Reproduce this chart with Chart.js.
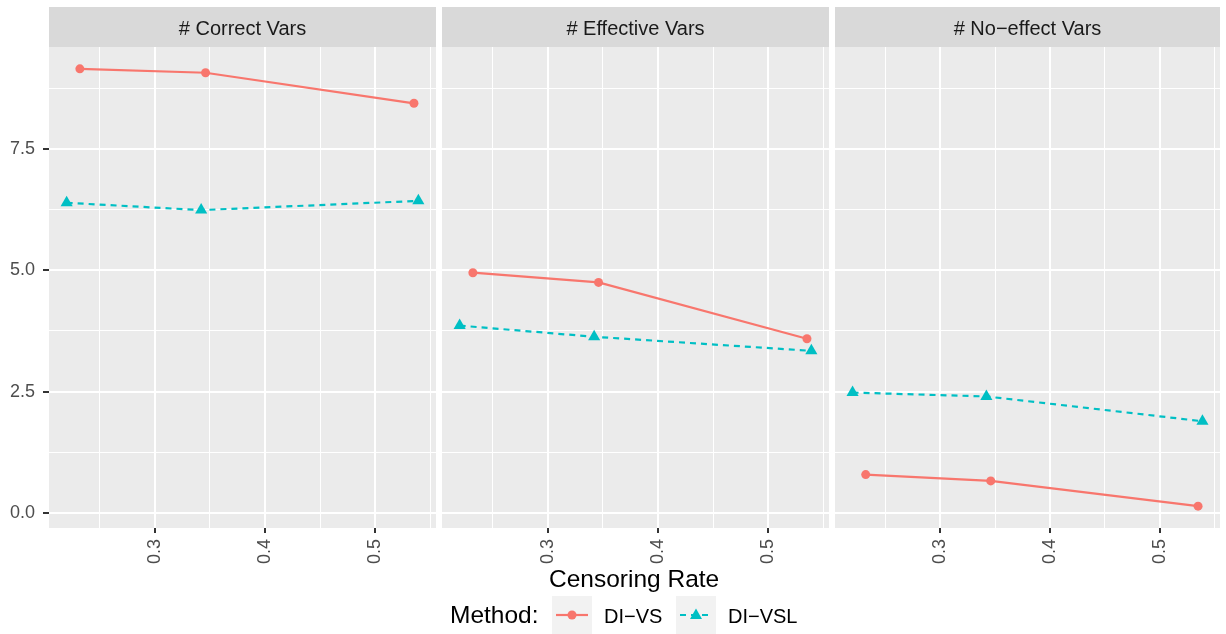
<!DOCTYPE html>
<html>
<head>
<meta charset="utf-8">
<script src="https://cdn.jsdelivr.net/npm/chart.js@4"></script>
<style>
  body { margin: 0; background: #fff; font-family: "Liberation Sans", Arial, sans-serif; }
  #wrap { position: relative; width: 1226px; height: 634px; overflow: hidden; }
  #wrap canvas { position: absolute; top: 0; }
  .txt { position: absolute; white-space: nowrap; line-height: 1; color: #000; }
  .key { position: absolute; }
</style>
</head>
<body>
<div id="wrap">
  <canvas id="p1" width="440" height="580" style="left:0px"></canvas>
  <canvas id="p2" width="387" height="580" style="left:442px"></canvas>
  <canvas id="p3" width="385" height="580" style="left:835px"></canvas>

  <div class="txt" style="left:549px;top:567px;font-size:24.5px">Censoring Rate</div>

  <div class="txt" style="left:450px;top:603px;font-size:24.5px">Method:</div>
  <svg class="key" width="40" height="38" style="left:552px;top:596px">
    <rect width="40" height="38" fill="#F2F2F2"/>
    <line x1="4" y1="19" x2="36" y2="19" stroke="#F8766D" stroke-width="2.2"/>
    <circle cx="20" cy="19" r="4.5" fill="#F8766D"/>
  </svg>
  <div class="txt" style="left:604px;top:606px;font-size:20px">DI−VS</div>
  <svg class="key" width="40" height="38" style="left:676px;top:596px">
    <rect width="40" height="38" fill="#F2F2F2"/>
    <line x1="4" y1="19" x2="36" y2="19" stroke="#00BFC4" stroke-width="2.2" stroke-dasharray="6 5"/>
    <polygon points="20,12.5 26,23 14,23" fill="#00BFC4"/>
  </svg>
  <div class="txt" style="left:728px;top:606px;font-size:20px">DI−VSL</div>
</div>

<script>
// censoring rates at which each method was run
const rateVS = [0.232, 0.346, 0.535];
const rateVSL = [0.220, 0.342, 0.539];

const panelTitles = ['# Correct Vars', '# Effective Vars', '# No−effect Vars'];

const correctVS = [9.15, 9.07, 8.44];
const correctVSL = [6.39, 6.24, 6.43];
const effectiveVS = [4.95, 4.75, 3.59];
const effectiveVSL = [3.86, 3.63, 3.34];
const noEffectVS = [0.79, 0.66, 0.14];
const noEffectVSL = [2.48, 2.40, 1.89];

// axis ticks (majors get labels, the rest are minor grid lines)
const xMajor = [0.3, 0.4, 0.5];
const xLabels = ['0.3', '0.4', '0.5'];
const xMinor = [0.25, 0.35, 0.45, 0.55];
const yMajor = [0, 2.5, 5, 7.5];
const yLabels = ['0.0', '2.5', '5.0', '7.5'];
const yMinor = [1.25, 3.75, 6.25, 8.75];

Chart.defaults.font.family = '"Liberation Sans", Arial, sans-serif';

const RED = '#F8766D';
const TEAL = '#00BFC4';

// grey panel + strip with the facet title
const panelFrame = {
  id: 'panelFrame',
  beforeDraw(chart, args, opts) {
    const { ctx, chartArea: a } = chart;
    ctx.save();
    ctx.fillStyle = '#EBEBEB';
    ctx.fillRect(a.left, a.top, a.right - a.left, a.bottom - a.top);
    ctx.fillStyle = '#D9D9D9';
    ctx.fillRect(a.left, 7, a.right - a.left, a.top - 7);
    ctx.fillStyle = '#1A1A1A';
    ctx.font = '20px "Liberation Sans", Arial, sans-serif';
    ctx.textAlign = 'center';
    ctx.textBaseline = 'alphabetic';
    ctx.fillText(opts.label, (a.left + a.right) / 2, 34.5);
    ctx.restore();
  }
};

const toPoints = (xs, ys) => xs.map((x, i) => ({ x: x, y: ys[i] }));

function makePanel(id, title, vs, vsl, first) {
  const ctx = document.getElementById(id).getContext('2d');
  return new Chart(ctx, {
    type: 'line',
    data: {
      datasets: [
        {
          label: 'DI−VSL',
          data: toPoints(rateVSL, vsl),
          borderColor: TEAL,
          backgroundColor: TEAL,
          borderWidth: 2.2,
          borderDash: [6, 5],
          pointStyle: 'triangle',
          pointRadius: 7,
          pointBorderWidth: 0,
          tension: 0
        },
        {
          label: 'DI−VS',
          data: toPoints(rateVS, vs),
          borderColor: RED,
          backgroundColor: RED,
          borderWidth: 2.2,
          pointStyle: 'circle',
          pointRadius: 4.5,
          pointBorderWidth: 0,
          tension: 0
        }
      ]
    },
    options: {
      responsive: false,
      animation: false,
      clip: false,
      layout: {
        autoPadding: false,
        padding: { top: 47, left: 0, right: first ? 4 : 0, bottom: 0 }
      },
      plugins: {
        legend: { display: false },
        tooltip: { enabled: false },
        panelFrame: { label: title }
      },
      scales: {
        x: {
          type: 'linear',
          min: 0.204,
          max: 0.555,
          afterBuildTicks: s => { s.ticks = xMajor.concat(xMinor).sort((a, b) => a - b).map(v => ({ value: v })); },
          afterFit: s => { s.height = 52; s.paddingLeft = 0; s.paddingRight = 0; },
          ticks: {
            autoSkip: false,
            minRotation: 90,
            maxRotation: 90,
            padding: 6,
            color: '#4D4D4D',
            font: { size: 18 },
            callback: v => { const i = xMajor.indexOf(v); return i < 0 ? '' : xLabels[i]; }
          },
          grid: {
            color: '#FFFFFF',
            lineWidth: c => xMajor.includes(c.tick.value) ? 2 : 1,
            tickLength: 5,
            tickWidth: 2,
            tickColor: c => xMajor.includes(c.tick.value) ? '#333333' : 'rgba(0,0,0,0)'
          },
          border: { display: false }
        },
        y: {
          type: 'linear',
          min: -0.31,
          max: 9.6,
          afterBuildTicks: s => { s.ticks = yMajor.concat(yMinor).sort((a, b) => a - b).map(v => ({ value: v })); },
          afterFit: s => { s.width = first ? 49 : 0; s.paddingTop = 0; s.paddingBottom = 0; },
          ticks: {
            display: first,
            autoSkip: false,
            padding: 8,
            color: '#4D4D4D',
            font: { size: 18 },
            callback: v => { const i = yMajor.indexOf(v); return i < 0 ? '' : yLabels[i]; }
          },
          grid: {
            color: '#FFFFFF',
            lineWidth: c => yMajor.includes(c.tick.value) ? 2 : 1,
            drawTicks: first,
            tickLength: 6,
            tickWidth: 2,
            tickColor: c => yMajor.includes(c.tick.value) ? '#333333' : 'rgba(0,0,0,0)'
          },
          border: { display: false }
        }
      }
    },
    plugins: [panelFrame]
  });
}

makePanel('p1', panelTitles[0], correctVS, correctVSL, true);
makePanel('p2', panelTitles[1], effectiveVS, effectiveVSL, false);
makePanel('p3', panelTitles[2], noEffectVS, noEffectVSL, false);
</script>
</body>
</html>
